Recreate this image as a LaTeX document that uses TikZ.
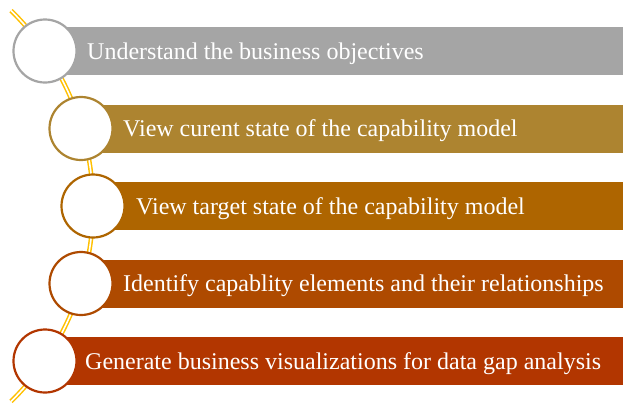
\documentclass[tikz,border=0pt]{standalone}
\usepackage{fontspec}
\setmainfont{Liberation Serif}
\definecolor{cA}{HTML}{A5A5A5}
\definecolor{cB}{HTML}{AD8430}
\definecolor{cC}{HTML}{AE6500}
\definecolor{cD}{HTML}{AE4A00}
\definecolor{cE}{HTML}{B23600}
\definecolor{arcgold}{HTML}{FFC000}
\tikzset{
  bar/.style={fill=#1, draw=white, line width=0.6pt, minimum height=49pt, anchor=west, inner sep=0pt},
  ring/.style={circle, draw=#1, fill=white, line width=2.2pt, minimum size=63pt, inner sep=0pt},
  lbl/.style={text=white, anchor=base west, inner sep=0pt, font=\fontsize{24}{26}\selectfont},
  spine/.style={draw=arcgold, double=white, double distance=1.6pt, line width=1.5pt}
}
\begin{document}
\begin{tikzpicture}[x=1pt,y=-1pt]
\useasboundingbox (0,0) rectangle (623,405);
\coordinate (ac) at (-181,206);
\draw[spine] (ac) ++(-45.5:274) arc[start angle=-45.5, end angle=45.5, radius=274];
% bars
\node[bar=cA, minimum width=578pt] (b1) at (45,51) {};
\node[bar=cB, minimum width=542pt] (b2) at (81,128.5) {};
\node[bar=cC, minimum width=530pt] (b3) at (93,206) {};
\node[bar=cD, minimum width=542pt] (b4) at (81,283.5) {};
\node[bar=cE, minimum width=578pt] (b5) at (45,361) {};
% circles
\node[ring=cA] (c1) at (45,51) {};
\node[ring=cB] (c2) at (81,128.5) {};
\node[ring=cC] (c3) at (93,206) {};
\node[ring=cD] (c4) at (81,283.5) {};
\node[ring=cE] (c5) at (45,361) {};
% labels
\node[lbl] (t1) at (87,59) {Understand the business objectives};
\node[lbl] (t2) at (123,136.5) {View curent state of the capability model};
\node[lbl] (t3) at (136,214) {View target state of the capability model};
\node[lbl] (t4) at (123,291.5) {Identify capablity elements and their relationships};
\node[lbl] (t5) at (85,369) {Generate business visualizations for data gap analysis};
\end{tikzpicture}
\end{document}
